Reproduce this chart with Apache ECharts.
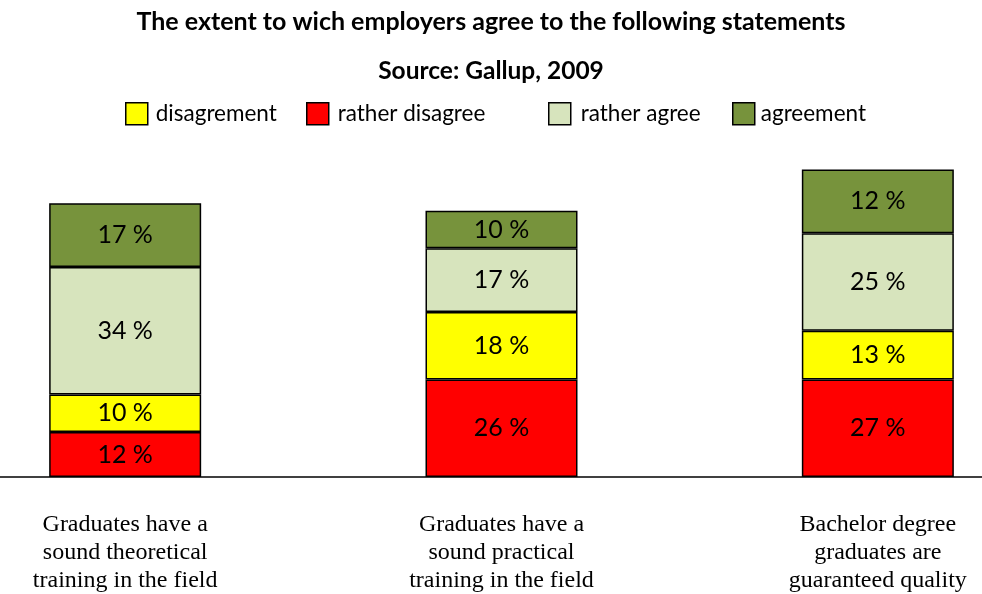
<!DOCTYPE html>
<html><head><meta charset="utf-8">
<script src="https://cdn.jsdelivr.net/npm/echarts@6/dist/echarts.min.js"></script>
<style>html,body{margin:0;padding:0;background:#fff}#c{width:982px;height:594px}</style>
</head><body><div id="c"></div>
<script>
const categories = [
  "Graduates have a\nsound theoretical\ntraining in the field",
  "Graduates have a\nsound practical\ntraining in the field",
  "Bachelor degree\ngraduates are\nguaranteed quality"
];
// drawn segment heights (percent)
const ratherDisagree = [12, 26, 26];
const disagreement   = [10, 18, 13];
const ratherAgree    = [34, 17, 26];
const agreement      = [17, 10, 17];
// printed labels
const ratherDisagreeLabels = ["12 %", "26 %", "27 %"];
const disagreementLabels   = ["10 %", "18 %", "13 %"];
const ratherAgreeLabels    = ["34 %", "17 %", "25 %"];
const agreementLabels      = ["17 %", "10 %", "12 %"];

const sans = "Lato, 'Open Sans', sans-serif";
function mk(name, data, labels, color) {
  return {
    name, type: 'bar', stack: 's', data, barWidth: 152,
    itemStyle: { color, borderColor: '#000', borderWidth: 1.5 },
    label: { show: true, position: 'inside', color: '#000', fontSize: 25, fontFamily: sans,
      formatter: p => labels[p.dataIndex] }
  };
}
function leg(name, left, pad) {
  return { data: [name], left, top: 102, padding: 0, itemWidth: 22, itemHeight: 22, itemGap: 0,
    icon: 'rect', itemStyle: { borderColor: '#000', borderWidth: 1.5 },
    textStyle: { fontSize: 22.5, fontFamily: sans, color: '#000', padding: [0, 0, 0, pad] } };
}
const chart = echarts.init(document.getElementById('c'));
chart.setOption({
  animation: false,
  title: [
    { text: 'The extent to wich employers agree to the following statements', left: 'center', top: 4,
      padding: [5, 0, 5, 12],
      textStyle: { fontSize: 25, fontWeight: 'bold', fontFamily: sans, color: '#000' } },
    { text: 'Source: Gallup, 2009', left: 'center', top: 54, padding: [5, 0, 5, 12],
      textStyle: { fontSize: 24.5, fontWeight: 'bold', fontFamily: sans, color: '#000' } }
  ],
  legend: [leg('disagrement', 125, 3), leg('rather disagree', 306, 4), leg('rather agree', 548, 5), leg('agreement', 732, 1)],
  grid: { left: -63, width: 1129, top: 102, bottom: 117, outerBoundsMode: 'none', containLabel: false },
  xAxis: { type: 'category', data: categories,
    axisLine: { lineStyle: { color: '#000', width: 1.5 } }, axisTick: { show: false },
    axisLabel: { margin: 34, color: '#000', fontSize: 24, lineHeight: 28,
      fontFamily: "'Liberation Serif', 'Times New Roman', serif" } },
  yAxis: { type: 'value', min: 0, max: 100, show: false, splitLine: { show: false } },
  series: [
    mk('rather disagree', ratherDisagree, ratherDisagreeLabels, '#ff0000'),
    mk('disagrement', disagreement, disagreementLabels, '#ffff00'),
    mk('rather agree', ratherAgree, ratherAgreeLabels, '#d7e4bd'),
    mk('agreement', agreement, agreementLabels, '#77933c')
  ]
});
</script></body></html>
